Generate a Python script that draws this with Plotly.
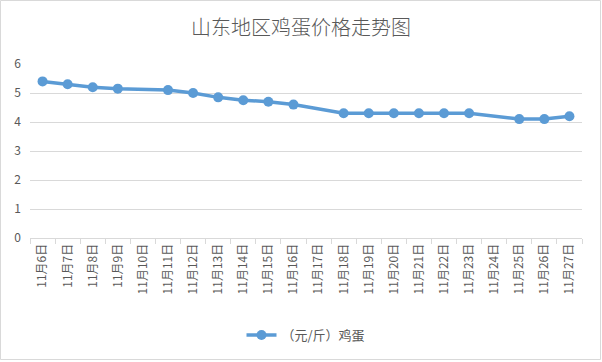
import plotly.graph_objects as go

categories = ["11月6日", "11月7日", "11月8日", "11月9日", "11月10日", "11月11日",
              "11月12日", "11月13日", "11月14日", "11月15日", "11月16日", "11月17日",
              "11月18日", "11月19日", "11月20日", "11月21日", "11月22日", "11月23日",
              "11月24日", "11月25日", "11月26日", "11月27日"]
prices = [5.4, 5.3, 5.2, 5.15, None, 5.1, 5.0, 4.85, 4.75, 4.7, 4.6, None,
          4.3, 4.3, 4.3, 4.3, 4.3, 4.3, None, 4.1, 4.1, 4.2]
series_name = "（元/斤）鸡蛋"
title_text = "山东地区鸡蛋价格走势图"

W, H = 602, 362
ml, mr, mt, mb = 30, 20, 64, 124

fig = go.Figure()
fig.add_trace(go.Scatter(
    x=categories, y=prices, name=series_name, mode="lines+markers",
    connectgaps=True,
    line=dict(color="#5B9BD5", width=3.5),
    marker=dict(color="#5B9BD5", size=10),
))

fig.update_layout(
    width=W, height=H,
    margin=dict(l=ml, r=mr, t=mt, b=mb),
    paper_bgcolor="white", plot_bgcolor="white",
    font=dict(family="Noto Sans CJK SC, sans-serif", color="#595959", size=11),
    title=dict(text=title_text, x=0.5, xanchor="center", y=1 - 28 / H, yanchor="middle",
               font=dict(size=20, color="#595959", family="Noto Sans CJK SC, sans-serif", weight=300)),
    showlegend=True,
    legend=dict(orientation="h", x=0.5, xanchor="center", y=-(335 - (H - mb)) / (H - mt - mb),
                yanchor="middle", font=dict(size=13, color="#595959")),
    xaxis=dict(
        type="category", showgrid=False, showline=True, linecolor="#d9d9d9", linewidth=1,
        ticks="outside", tickson="boundaries", ticklen=5, tickcolor="#d9d9d9",
        tickangle=-90, tickfont=dict(size=12, color="#595959"),
        range=[-0.5, len(categories) - 0.5], fixedrange=True,
    ),
    yaxis=dict(
        range=[0, 6], dtick=1, showgrid=True, gridcolor="#d9d9d9", gridwidth=1,
        zeroline=False, showline=False, tickfont=dict(size=12, color="#595959"),
        ticklabelstandoff=8,
    ),
)

pw = W - ml - mr
ph = H - mt - mb
fig.add_shape(type="rect", xref="paper", yref="paper",
              x0=(-ml + 0.5) / pw, x1=(pw + mr - 1.5) / pw,
              y0=(-mb + 2.5) / ph, y1=(ph + mt - 0.5) / ph,
              line=dict(color="#d9d9d9", width=1), fillcolor="rgba(0,0,0,0)", layer="below")

fig.write_html("out.html", config={"displayModeBar": False},
               post_script="document.body.style.margin='0';")
